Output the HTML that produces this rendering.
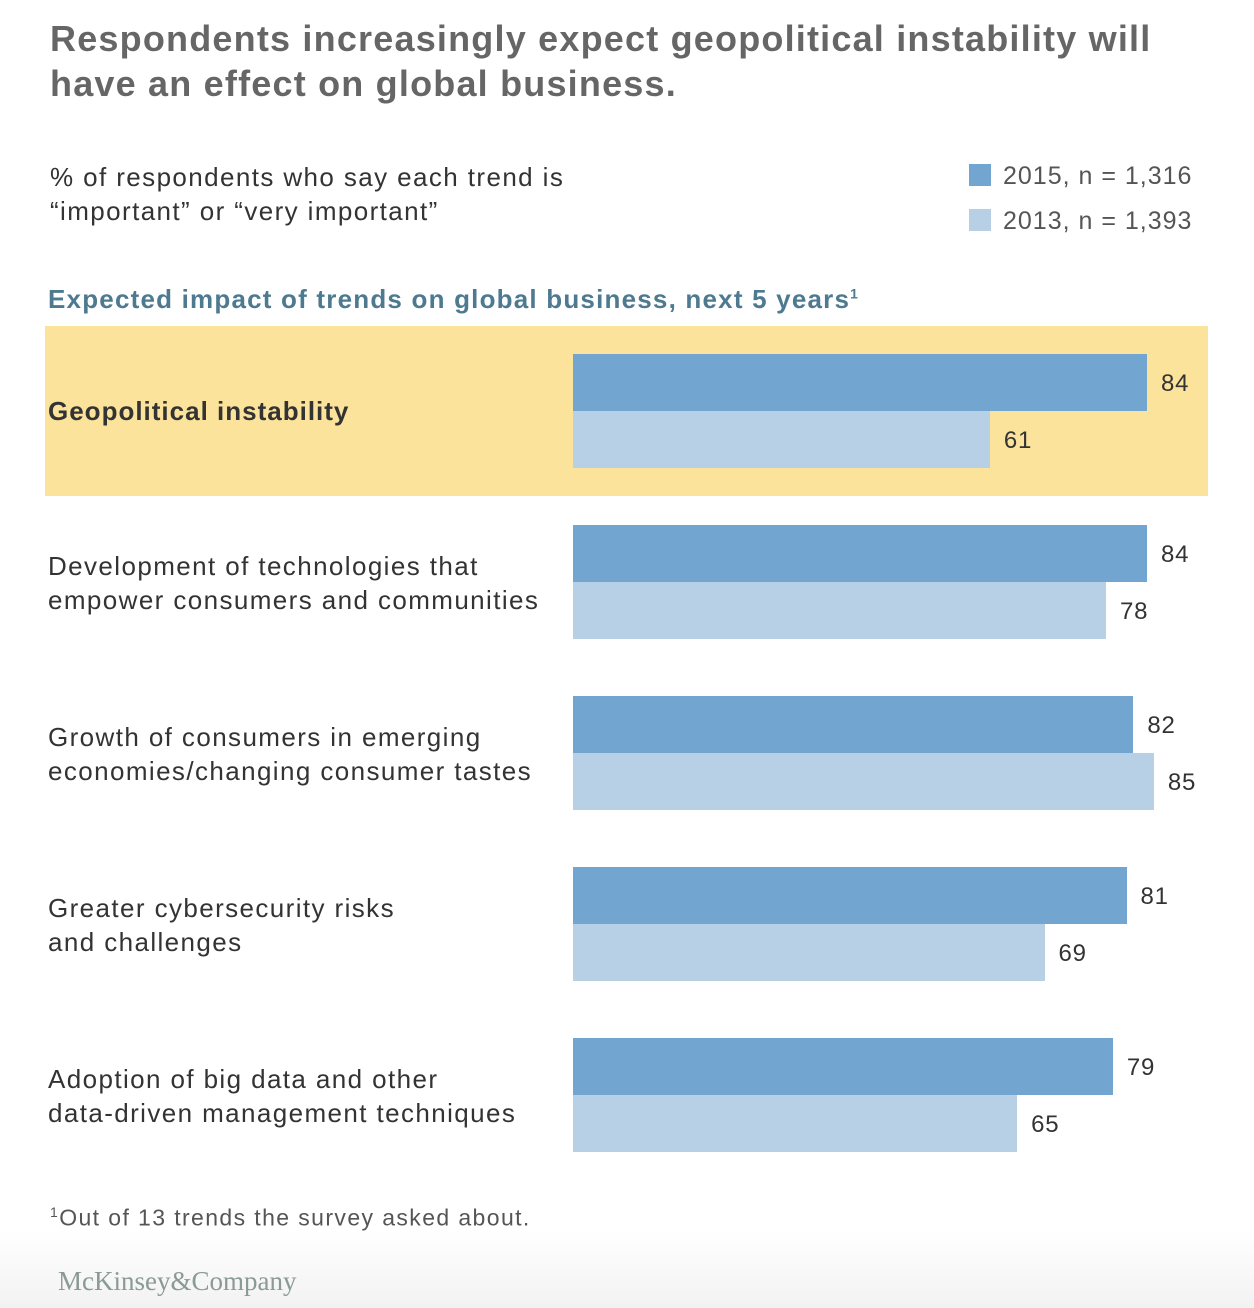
<!DOCTYPE html>
<html><head><meta charset="utf-8"><style>
body{margin:0;width:1254px;height:1308px;background:#fff;font-family:"Liberation Sans",Arial,sans-serif;position:relative;overflow:hidden}
.a{position:absolute}
.lbl{position:absolute;left:48px;font-size:26px;color:#333;line-height:34px;letter-spacing:1.4px}
.val{position:absolute;font-size:24px;color:#333;letter-spacing:0.8px}
</style></head><body>
<div class="a" style="left:0;top:1230px;width:1254px;height:78px;background:linear-gradient(#fff,#f2f2f2)"></div>
<div class="a" style="left:50px;top:16px;font-size:36px;font-weight:bold;color:#666;line-height:45px;letter-spacing:1.2px">Respondents increasingly expect geopolitical instability will<br>have an effect on global business.</div>
<div class="a" style="left:50px;top:160px;font-size:26px;color:#333;line-height:34px;letter-spacing:1.4px">% of respondents who say each trend is<br>“important” or “very important”</div>
<div class="a" style="left:969px;top:162px;font-size:25px;color:#555;letter-spacing:1px"><span style="display:inline-block;width:22px;height:22px;background:#72a5cf;vertical-align:-2px;margin-right:12px"></span>2015, n = 1,316</div>
<div class="a" style="left:969px;top:207px;font-size:25px;color:#555;letter-spacing:1px"><span style="display:inline-block;width:22px;height:22px;background:#b8d0e6;vertical-align:-2px;margin-right:12px"></span>2013, n = 1,393</div>
<div class="a" style="left:48px;top:284px;font-size:26px;font-weight:bold;color:#4e7a91;letter-spacing:1.2px">Expected impact of trends on global business, next 5 years<sup style="font-size:14px">1</sup></div>
<div class="a" style="left:45px;top:326px;width:1163px;height:170px;background:#fbe39b"></div>
<div id="chart"></div>
<div class="a" style="left:50px;top:1204px;font-size:23px;color:#555;letter-spacing:1.4px"><sup style="font-size:14px">1</sup>Out of 13 trends the survey asked about.</div>
<div class="a" style="left:58px;top:1266px;font-size:27px;color:#8a9a94;font-family:'Liberation Serif',serif;letter-spacing:0px">McKinsey&amp;Company</div>
<script>
const categories=["Geopolitical instability","Development of technologies that<br>empower consumers and communities","Growth of consumers in emerging<br>economies/changing consumer tastes","Greater cybersecurity risks<br>and challenges","Adoption of big data and other<br>data-driven management techniques"];
const values2015=[84,84,82,81,79];
const values2013=[61,78,85,69,65];
const x0=573, scale=(1147-573)/84, top0=354, step=171, bh=57;
const xs=v=>v*scale;
const c=document.getElementById('chart');
categories.forEach((cat,i)=>{
  const y=top0+i*step;
  const l=document.createElement('div');
  l.className='lbl';
  
  
  l.innerHTML=cat;
  l.style.top=(i==0?y+40:y+24)+'px';
  if(i==0){l.style.fontWeight='bold';l.style.letterSpacing='1px';}
  c.appendChild(l);
  [[values2015[i],'#72a5cf',0],[values2013[i],'#b8d0e6',1]].forEach(([v,col,k])=>{
    const b=document.createElement('div');
    b.className='a';
    
    
    b.style.cssText=`left:${x0}px;top:${y+k*bh}px;width:${xs(v)}px;height:${bh}px;background:${col}`;
    c.appendChild(b);
    const t=document.createElement('div');
    t.className='val';
    
    
    t.textContent=v;
    t.style.left=(x0+xs(v)+14)+'px';
    t.style.top=(y+k*bh+16)+'px';
    c.appendChild(t);
  });
});
</script>
</body></html>
